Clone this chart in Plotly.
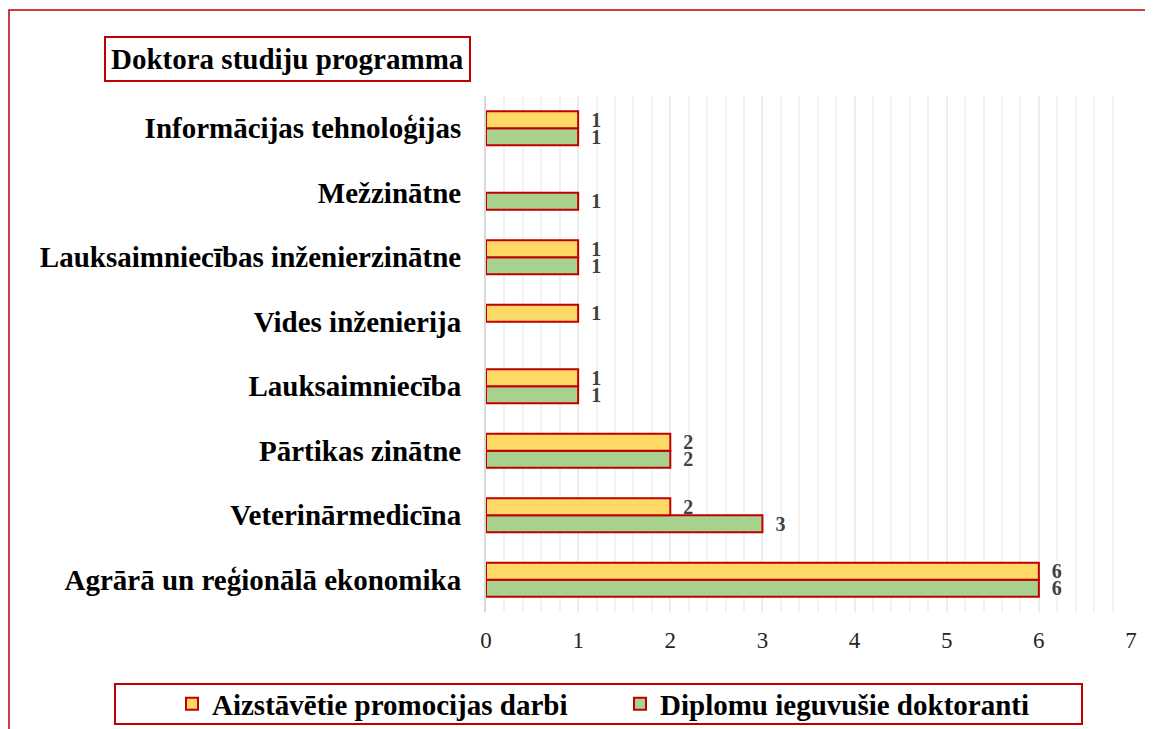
import plotly.graph_objects as go

# categories listed bottom to top (plotly puts the first category at the bottom)
categories = ["Agrārā un reģionālā ekonomika", "Veterinārmedicīna", "Pārtikas zinātne",
              "Lauksaimniecība", "Vides inženierija", "Lauksaimniecības inženierzinātne",
              "Mežzinātne", "Informācijas tehnoloģijas"]
aizstavetie = [6, 2, 2, 1, 1, 1, None, 1]
diplomi = [6, 3, 2, 1, None, 1, 1, 1]

# the page body has an 8px margin, so the figure is 8px smaller than the window
OFF = 8
W, H = 1153 - OFF, 729 - OFF
L, R, T, B = 486 - OFF, 22, 96 - OFF, 117
PW, PH = W - L - R, H - T - B


def px(x):  # window pixel -> paper x
    return (x - OFF - L) / PW


def py(y):  # window pixel -> paper y
    return (H - B - (y - OFF)) / PH


def cx(x):  # window pixel -> container x
    return (x - OFF) / W


def cy(y):  # window pixel -> container y
    return 1 - (y - OFF) / H


serif = "Liberation Serif, Times New Roman, serif"
red = "#C00000"
lblfont = dict(family=serif, size=20, color="#404040")
legfont = dict(family=serif, size=29, color="black")

fig = go.Figure()
# green first so it sits below the yellow bar in each group
fig.add_trace(go.Bar(
    y=categories, x=diplomi, orientation="h", name="<b>Diplomu ieguvušie doktoranti</b>",
    marker=dict(color="#A9D18E", line=dict(color=red, width=2)),
    texttemplate="  <b>%{x}</b>", textposition="outside", constraintext="none",
    textfont=lblfont, cliponaxis=False, legend="legend2",
))
fig.add_trace(go.Bar(
    y=categories, x=aizstavetie, orientation="h", name="<b>Aizstāvētie promocijas darbi</b>",
    marker=dict(color="#FFD966", line=dict(color=red, width=2)),
    texttemplate="  <b>%{x}</b>", textposition="outside", constraintext="none",
    textfont=lblfont, cliponaxis=False, legend="legend",
))

fig.update_layout(
    width=W, height=H,
    margin=dict(l=L, r=R, t=T, b=B),
    paper_bgcolor="white", plot_bgcolor="white",
    barmode="group", bargap=0.47, bargroupgap=0,
    font=dict(family=serif, color="black"),
    showlegend=True,
    legend=dict(orientation="h", xref="container", yref="container",
                x=cx(172), y=cy(704), xanchor="left", yanchor="middle",
                font=legfont, bgcolor="rgba(0,0,0,0)"),
    legend2=dict(orientation="h", xref="container", yref="container",
                 x=cx(620), y=cy(704), xanchor="left", yanchor="middle",
                 font=legfont, bgcolor="rgba(0,0,0,0)"),
    xaxis=dict(range=[0, 7], dtick=1, showgrid=True, gridcolor="#EDEDED", gridwidth=1.5,
               minor=dict(dtick=0.2, showgrid=True, gridcolor="#F2F2F2", gridwidth=1.5),
               zeroline=False, showline=False, ticks="", ticklabelstandoff=12,
               tickfont=dict(family=serif, size=23, color="#262626")),
    yaxis=dict(showgrid=False, showline=True, linecolor="#D9D9D9", linewidth=2, ticks="",
               ticklabelstandoff=17,
               tickfont=dict(family=serif, size=29, color="black"),
               tickprefix="<b>", ticksuffix="</b>"),
    annotations=[dict(text="<b>Doktora studiju programma</b>", xref="paper", yref="paper",
                      x=px(287), y=py(59), xanchor="center", yanchor="middle", showarrow=False,
                      font=dict(family=serif, size=29, color="black"),
                      bordercolor=red, borderwidth=2, borderpad=5)],
    shapes=[
        dict(type="rect", xref="paper", yref="paper", x0=px(9), x1=px(1170), y0=py(10), y1=py(760),
             line=dict(color=red, width=1.5), fillcolor="rgba(0,0,0,0)", layer="below"),
        dict(type="rect", xref="paper", yref="paper", x0=px(115), x1=px(1082), y0=py(684), y1=py(724),
             line=dict(color=red, width=2), fillcolor="rgba(0,0,0,0)"),
    ],
)

fig.write_html("out.html")
